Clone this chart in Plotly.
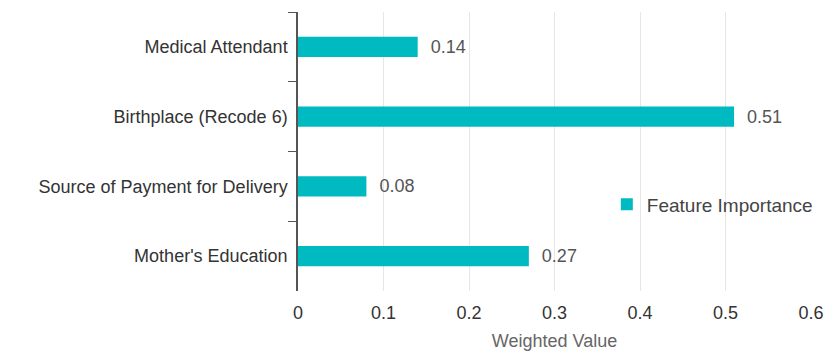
import plotly.graph_objects as go

categories = ["Medical Attendant", "Birthplace (Recode 6)", "Source of Payment for Delivery", "Mother's Education"]
values = [0.14, 0.51, 0.08, 0.27]
series_name = "Feature Importance"
x_ticks = [0, 0.1, 0.2, 0.3, 0.4, 0.5, 0.6]
x_tick_labels = ["0", "0.1", "0.2", "0.3", "0.4", "0.5", "0.6"]

FONT = "Helvetica Neue, Liberation Sans, Arial, sans-serif"

fig = go.Figure(go.Bar(
    y=categories, x=values, orientation="h", name=series_name,
    marker=dict(color="#00BAC1", line=dict(width=0)),
    width=0.29,
    text=[f"{v:.2f}" for v in values],
    texttemplate="  %{text}",
    textposition="outside",
    textfont=dict(family=FONT, size=18, color="#555555"),
    cliponaxis=False,
    showlegend=True,
))

# page body has an 8px margin; figure sized to fit the 839x361 window
fig.update_layout(
    width=831, height=353,
    margin=dict(l=290, r=28, t=4, b=70, autoexpand=False),
    plot_bgcolor="white", paper_bgcolor="white",
    font=dict(family=FONT, size=18, color="#333333"),
    bargap=0.7,
    xaxis=dict(
        range=[0, 0.6], tickvals=x_ticks, ticktext=x_tick_labels,
        showgrid=True, gridcolor="#E6E6E6", gridwidth=1,
        zeroline=False, showline=False, ticks="", automargin=False,
        ticklabelstandoff=9,
        tickfont=dict(size=18, color="#333333"),
        title=dict(text="Weighted Value", font=dict(size=18, color="#666666"), standoff=12),
    ),
    yaxis=dict(
        autorange="reversed", showline=True, linecolor="#555555", linewidth=1.5,
        ticks="outside", tickson="boundaries", ticklen=8, tickcolor="#555555",
        automargin=False, ticklabelstandoff=5,
        tickfont=dict(size=18, color="#333333"), showgrid=False,
    ),
    legend=dict(x=0.602, y=0.31, xanchor="left", yanchor="middle",
                font=dict(size=19, color="#444444"), bgcolor="rgba(0,0,0,0)",
                itemwidth=30),
)

fig.write_html("out.html")
